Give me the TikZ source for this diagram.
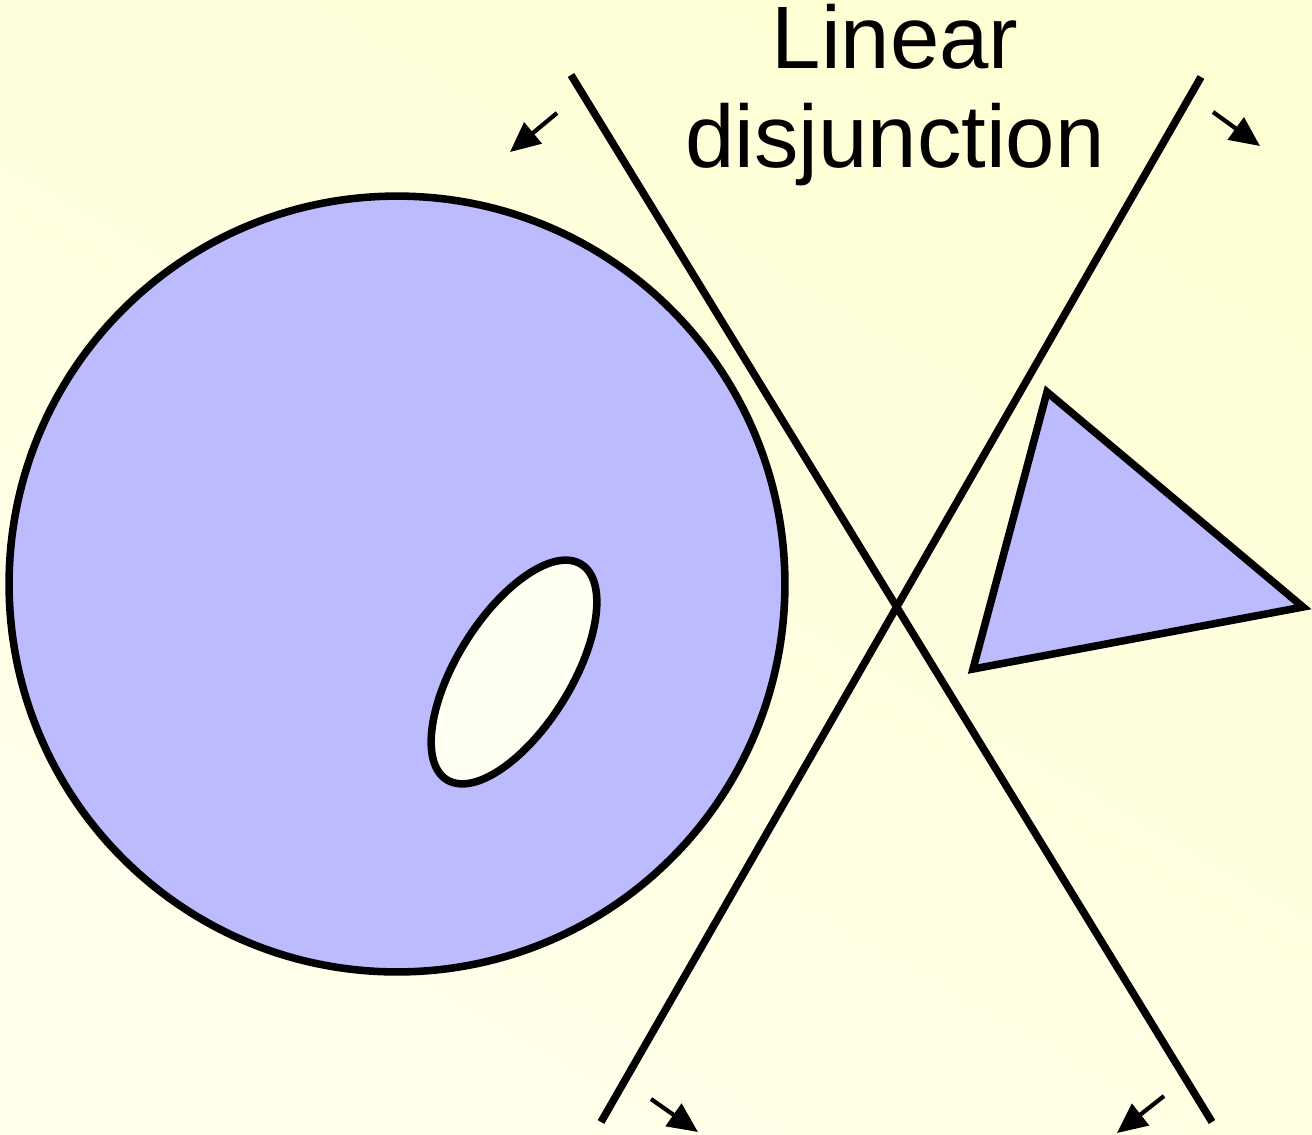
\documentclass[tikz,border=0pt]{standalone}
\usepackage{fontspec}
\setmainfont{Liberation Sans}
\usepackage{xcolor}
\usepackage{tikz}
\usetikzlibrary{arrows.meta}
\definecolor{paper}{HTML}{FEFED4}
\definecolor{paperlight}{HTML}{FFFFEC}
\definecolor{region}{HTML}{BBBBFE}
\definecolor{hole}{HTML}{FFFFF2}

\begin{document}
\begin{tikzpicture}[
  x=0.02cm,y=-0.02cm,
  regionfill/.style={draw=black,line width=4.3pt,fill=region,line join=miter},
  cut/.style={draw=black,line width=4.3pt},
  side/.style={-{Triangle[length=6mm,width=5.4mm]},line width=2.4pt},
  lbl/.style={font=\fontsize{50.5}{56}\selectfont,align=center,inner sep=0pt},
]

% --- background
\shade[left color=paper,right color=paperlight,shading angle=-30] (0,0) rectangle (1312,1134);
\useasboundingbox (0,0) rectangle (1312,1134);

% --- regions
\draw[regionfill] (397,584) circle[radius=7.76cm];
\draw[regionfill,fill=hole] (514,672) ellipse[x radius=2.54cm,y radius=1.14cm,rotate=58];
\draw[regionfill] (1047,392) -- (1303,607) -- (973,669) -- cycle;

% --- separating lines
\coordinate (a1) at (571,75);
\coordinate (a2) at (1212,1122);
\coordinate (b1) at (1201,77);
\coordinate (b2) at (601,1122);
\draw[cut] (a1) -- (a2);
\draw[cut] (b1) -- (b2);

% --- half-plane arrows
\coordinate (p1) at (557,113);
\coordinate (q1) at (510,152);
\coordinate (p2) at (1213,112);
\coordinate (q2) at (1260,146);
\coordinate (p3) at (651,1099);
\coordinate (q3) at (698,1132);
\coordinate (p4) at (1164,1096);
\coordinate (q4) at (1117,1133);
\draw[side] (p1) -- (q1);
\draw[side] (p2) -- (q2);
\draw[side] (p3) -- (q3);
\draw[side] (p4) -- (q4);

% --- label
\node[lbl,anchor=base] (title) at (895,167) {Linear\\disjunction};
\end{tikzpicture}
\end{document}
